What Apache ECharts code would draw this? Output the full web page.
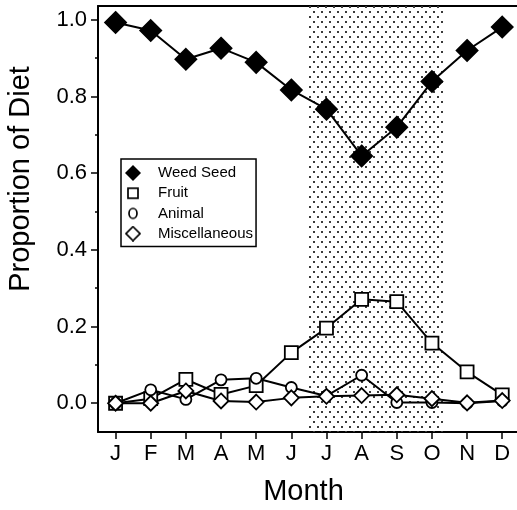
<!DOCTYPE html>
<html>
<head>
<meta charset="utf-8">
<script src="https://cdn.jsdelivr.net/npm/echarts@6/dist/echarts.min.js"></script>
<style>
  html, body { margin: 0; padding: 0; background: #fff; }
  #chart { width: 517px; height: 510px; }
</style>
</head>
<body>
<div id="chart"></div>
<script>
// month initials along the x axis
var months = ['J', 'F', 'M', 'A', 'M', 'J', 'J', 'A', 'S', 'O', 'N', 'D'];
// proportion of diet per month
var weedSeed = [0.993, 0.972, 0.897, 0.926, 0.889, 0.817, 0.767, 0.645, 0.720, 0.839, 0.920, 0.981];
var fruit = [0.0, 0.012, 0.062, 0.023, 0.046, 0.132, 0.196, 0.271, 0.265, 0.157, 0.082, 0.022];
var animal = [0.0, 0.035, 0.010, 0.061, 0.065, 0.041, 0.019, 0.073, 0.002, 0.002, 0.0, 0.006];
var misc = [0.0, 0.0, 0.032, 0.006, 0.003, 0.014, 0.018, 0.020, 0.022, 0.012, 0.001, 0.007];
// shaded period (in month index units)
var shadeRange = [5.46, 9.32];
var yMajorTicks = [0, 0.2, 0.4, 0.6, 0.8, 1.0];
var yMinorTicks = [0.1, 0.3, 0.5, 0.7, 0.9];
var monthIdx = months.map(function (m, i) { return i; });

var FONT = '"Liberation Sans", Arial, Helvetica, sans-serif';

// stipple pattern for the shaded months
var tile = document.createElement('canvas');
tile.width = 8;
tile.height = 10;
var tc = tile.getContext('2d');
tc.fillStyle = '#3a3a3a';
tc.fillRect(1, 1, 2, 2);
tc.fillRect(5, 6, 2, 2);

// small legend icons drawn at their own sizes
function icon(draw) {
  var c = document.createElement('canvas');
  c.width = 16;
  c.height = 16;
  var g = c.getContext('2d');
  g.strokeStyle = '#000';
  g.fillStyle = '#000';
  g.lineWidth = 1.7;
  draw(g);
  return 'image://' + c.toDataURL();
}
var iconWeed = icon(function (g) {
  g.beginPath(); g.moveTo(8, 0); g.lineTo(16, 8); g.lineTo(8, 16); g.lineTo(0, 8); g.closePath(); g.fill();
});
var iconFruit = icon(function (g) { g.strokeRect(3, 3, 10, 10); });
var iconAnimal = icon(function (g) {
  g.beginPath(); g.ellipse(8, 8, 4, 5, 0, 0, Math.PI * 2); g.stroke();
});
var iconMisc = icon(function (g) {
  g.beginPath(); g.moveTo(8, 1); g.lineTo(15, 8); g.lineTo(8, 15); g.lineTo(1, 8); g.closePath(); g.stroke();
});

function pairs(arr) {
  return arr.map(function (v, i) { return [i, v]; });
}

function lineSeries(name, data, symbol, size, fill) {
  return {
    name: name,
    type: 'line',
    z: 3,
    data: pairs(data),
    symbol: symbol,
    symbolSize: size,
    showAllSymbol: true,
    lineStyle: { color: '#000', width: 2 },
    itemStyle: { color: fill, borderColor: '#000', borderWidth: 1.8 },
    emphasis: { disabled: true }
  };
}

var chart = echarts.init(document.getElementById('chart'));
chart.setOption({
  animation: false,
  backgroundColor: '#fff',
  grid: { left: 98, right: 0, top: 6, bottom: 78, outerBoundsMode: 'none' },
  legend: {
    orient: 'vertical',
    left: 121,
    top: 159,
    padding: [6, 3, 5, 4],
    itemGap: 4.2,
    itemWidth: 16,
    itemHeight: 16,
    backgroundColor: '#fff',
    borderColor: '#000',
    borderWidth: 1.5,
    borderRadius: 0,
    textStyle: { fontFamily: FONT, fontSize: 15, color: '#000', padding: [0, 0, 0, 12] },
    data: [
      { name: 'Weed Seed', icon: iconWeed },
      { name: 'Fruit', icon: iconFruit },
      { name: 'Animal', icon: iconAnimal },
      { name: 'Miscellaneous', icon: iconMisc }
    ]
  },
  xAxis: [{
    type: 'value',
    min: -0.5,
    max: 11.42,
    name: 'Month',
    nameLocation: 'middle',
    nameGap: 45,
    nameTextStyle: { fontFamily: FONT, fontSize: 29, color: '#000', padding: [0, 8, 0, 0] },
    axisLine: { show: true, onZero: false, lineStyle: { color: '#000', width: 2 } },
    axisTick: { show: true, length: 7, customValues: monthIdx, lineStyle: { color: '#000', width: 1.5 } },
    axisLabel: {
      customValues: monthIdx,
      margin: 11,
      fontFamily: FONT, fontSize: 22, color: '#000',
      formatter: function (v) { return months[Math.round(v)]; }
    },
    splitLine: { show: false }
  }, {
    type: 'value',
    position: 'top',
    min: -0.5,
    max: 11.42,
    axisLine: { show: true, onZero: false, lineStyle: { color: '#000', width: 2 } },
    axisTick: { show: false },
    axisLabel: { show: false },
    splitLine: { show: false }
  }],
  yAxis: [{
    type: 'value',
    min: -0.075,
    max: 1.036,
    name: 'Proportion of Diet',
    nameLocation: 'middle',
    nameGap: 63,
    nameTextStyle: { fontFamily: FONT, fontSize: 29, color: '#000', padding: [0, 0, 0, 80] },
    axisLine: { show: true, onZero: false, lineStyle: { color: '#000', width: 2 } },
    axisTick: { show: true, length: 7, customValues: yMajorTicks, lineStyle: { color: '#000', width: 1.5 } },
    axisLabel: {
      customValues: yMajorTicks,
      margin: 11,
      fontFamily: FONT, fontSize: 22, color: '#000',
      formatter: function (v) { return v.toFixed(1); }
    },
    splitLine: { show: false }
  }, {
    type: 'value',
    position: 'left',
    min: -0.075,
    max: 1.036,
    axisLine: { show: false, onZero: false },
    axisTick: { show: true, length: 3, customValues: yMinorTicks, lineStyle: { color: '#000', width: 1.5 } },
    axisLabel: { show: false },
    splitLine: { show: false }
  }],
  series: [
    {
      name: 'shade',
      type: 'line',
      z: 1,
      data: [],
      markArea: {
        silent: true,
        itemStyle: { color: { image: tile, repeat: 'repeat' } },
        data: [[{ xAxis: shadeRange[0] }, { xAxis: shadeRange[1] }]]
      }
    },
    lineSeries('Weed Seed', weedSeed, 'diamond', 21, '#000'),
    lineSeries('Fruit', fruit, 'rect', 13, '#fff'),
    lineSeries('Animal', animal, 'circle', 11, '#fff'),
    lineSeries('Miscellaneous', misc, 'diamond', 15, '#fff')
  ]
});
</script>
</body>
</html>
